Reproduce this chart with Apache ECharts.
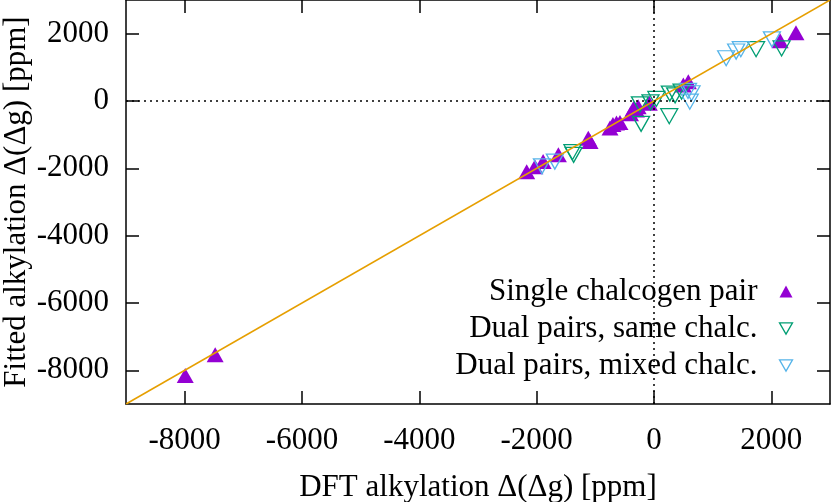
<!DOCTYPE html>
<html>
<head>
<meta charset="utf-8">
<script src="https://cdn.jsdelivr.net/npm/echarts@6/dist/echarts.min.js"></script>
<style>
  html, body { margin: 0; padding: 0; background: #fff; }
  #chart { width: 831px; height: 502px; }
</style>
</head>
<body>
<div id="chart"></div>
<script>
// axis ticks
const xTicks = [-8000, -6000, -4000, -2000, 0, 2000]
const yTicks = [-8000, -6000, -4000, -2000, 0, 2000]

// [DFT, fitted] in ppm
const singlePair = [
  [-7990, -8150], [-7480, -7540],
  [-2170, -2100], [-2030, -1950], [-1890, -1800], [-1630, -1600],
  [-1120, -1110], [-1090, -1200],
  [-750, -800], [-700, -700], [-640, -650], [-580, -640],
  [-400, -380], [-350, -220], [-300, -270], [-270, -170], [-80, -70],
  [500, 475], [585, 570],
  [2150, 1790], [2420, 2030]
]
const dualSame = [
  [-1370, -1600], [-1390, -1520],
  [-220, -680], [-240, -100], [-60, -40], [40, 60],
  [260, -450], [270, 220], [360, 170], [470, 280],
  [1740, 1540], [2175, 1560]
]
const dualMixed = [
  [-1910, -1940], [-1690, -1800],
  [580, 300], [610, -20], [640, 230],
  [1230, 1270], [1400, 1470], [1480, 1540], [2010, 1830]
]
const fitLine = [[-9000, -9000], [3000, 3000]]

const names = ['Single chalcogen pair', 'Dual pairs, same chalc.', 'Dual pairs, mixed chalc.']

const font = 'Liberation Serif, Times New Roman, serif'
const fs = 31
const purple = '#9400d3'
const green = '#009e73'
const blue = '#56b4e9'
const downTri = 'path://M0,0L2,0L1,1.732Z'

const chart = echarts.init(document.getElementById('chart'))

const baseAxis = {
  type: 'value',
  min: -9000,
  max: 3000,
  axisLine: { show: true, onZero: false, lineStyle: { color: '#000', width: 1.5 } },
  splitLine: { show: false }
}

const tickAxis = (ticks, extra) => Object.assign({}, baseAxis, {
  axisTick: { show: true, inside: true, length: 13, customValues: ticks, lineStyle: { color: '#000', width: 1.5 } },
  axisLabel: {
    customValues: ticks,
    color: '#000',
    fontFamily: font,
    fontSize: fs,
    formatter: v => String(v)
  }
}, extra)

const option = {
  animation: false,
  backgroundColor: '#fff',
  grid: { left: 126, right: 1, top: 0, bottom: 98, outerBoundsMode: 'none', containLabel: false },
  legend: {
    orient: 'vertical',
    right: 31,
    top: 271,
    align: 'right',
    itemWidth: 13,
    itemHeight: 12,
    itemGap: 6,
    textStyle: { fontFamily: font, fontSize: fs, color: '#000', lineHeight: 31, padding: [0, 17, 0, 0] },
    data: [
      { name: names[0], icon: 'triangle', itemStyle: { color: purple } },
      { name: names[1], icon: downTri, itemStyle: { color: 'none', borderColor: green, borderWidth: 1.3 } },
      { name: names[2], icon: downTri, itemStyle: { color: 'none', borderColor: blue, borderWidth: 1.3 } }
    ]
  },
  xAxis: [
    tickAxis(xTicks, {
      position: 'bottom',
      name: 'DFT alkylation Δ(Δg) [ppm]',
      nameLocation: 'middle',
      nameGap: 68,
      nameMoveOverlap: false,
      nameTextStyle: { fontFamily: font, fontSize: fs, color: '#000' },
      axisLabel: {
        customValues: xTicks, margin: 21, color: '#000',
        fontFamily: font, fontSize: fs, formatter: v => String(v)
      }
    }),
    tickAxis(xTicks, { position: 'top', axisLabel: { show: false } })
  ],
  yAxis: [
    tickAxis(yTicks, {
      position: 'left',
      name: 'Fitted alkylation Δ(Δg) [ppm]',
      nameLocation: 'middle',
      nameGap: 94,
      nameMoveOverlap: false,
      nameTextStyle: { fontFamily: font, fontSize: fs, color: '#000' },
      axisLabel: {
        customValues: yTicks, margin: 17, color: '#000',
        fontFamily: font, fontSize: fs, formatter: v => String(v)
      }
    }),
    tickAxis(yTicks, { position: 'right', axisLabel: { show: false } })
  ],
  series: [
    {
      name: names[0],
      type: 'scatter',
      symbol: 'triangle',
      symbolSize: [17, 15],
      itemStyle: { color: purple, opacity: 1 },
      data: singlePair
    },
    {
      name: names[1],
      type: 'scatter',
      symbol: downTri,
      symbolSize: [17, 15],
      itemStyle: { color: 'none', borderColor: green, borderWidth: 1.3, opacity: 1 },
      data: dualSame
    },
    {
      name: names[2],
      type: 'scatter',
      symbol: downTri,
      symbolSize: [17, 15],
      itemStyle: { color: 'none', borderColor: blue, borderWidth: 1.3, opacity: 1 },
      data: dualMixed
    },
    {
      name: 'fit',
      type: 'line',
      showSymbol: false,
      silent: true,
      lineStyle: { color: '#e69f00', width: 1.5 },
      data: fitLine,
      z: 3,
      markLine: {
        silent: true,
        symbol: ['none', 'none'],
        label: { show: false },
        lineStyle: { color: '#000', type: [2, 4], width: 1.5 },
        data: [{ xAxis: 0 }, { yAxis: 0 }]
      }
    }
  ]
}

chart.setOption(option)
</script>
</body>
</html>
